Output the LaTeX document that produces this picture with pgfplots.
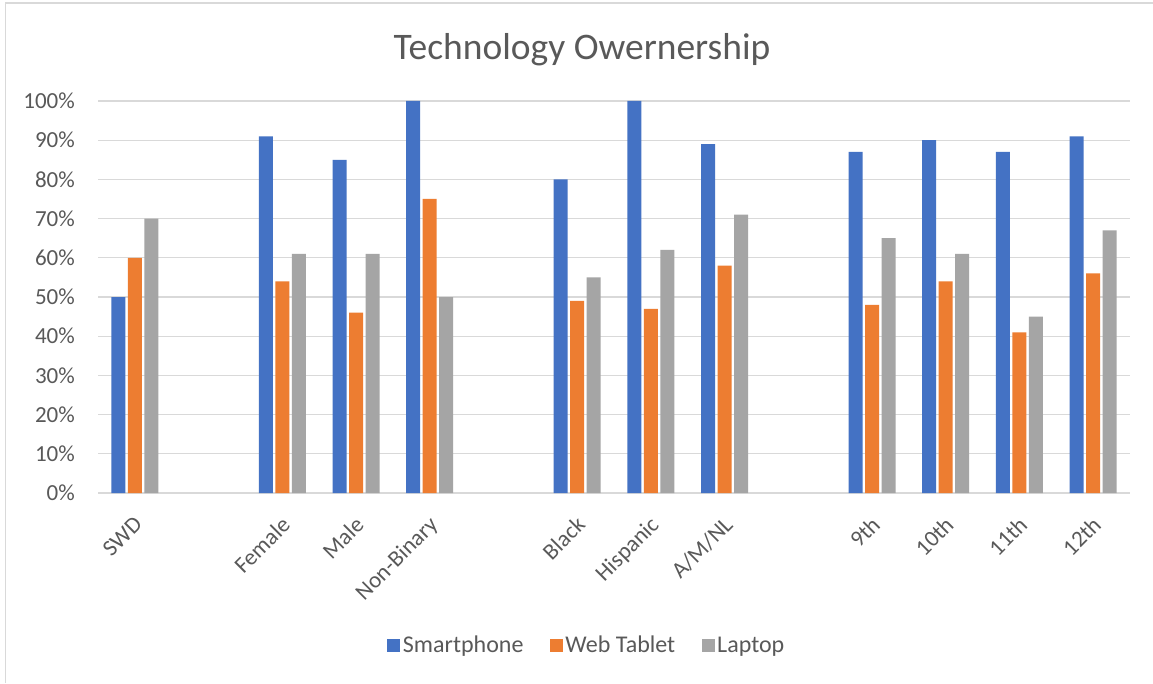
\documentclass[border=0pt]{standalone}
\usepackage{pgfplots}
\pgfplotsset{compat=1.18}
\usepackage{fontspec}
\setmainfont{Carlito}
\definecolor{cBlue}{HTML}{4472C4}
\definecolor{cOrange}{HTML}{ED7D31}
\definecolor{cGray}{HTML}{A5A5A5}
\definecolor{gridc}{HTML}{D9D9D9}
\definecolor{txt}{HTML}{595959}
\begin{document}
\begin{tikzpicture}[x=1pt,y=1pt]
\useasboundingbox (0,0) rectangle (1153,683);
\fill[white] (0,0) rectangle (1153,683);
\draw[gridc, line width=1.5pt] (5.5,0) -- (5.5,680) -- (1153,680);
\begin{axis}[
  at={(98pt,190pt)}, anchor=south west,
  scale only axis, width=1032pt, height=392pt,
  xmin=-0.5, xmax=13.5, ymin=0, ymax=100,
  ybar=2.5pt, bar width=14pt,
  axis y line*=left, axis x line*=bottom,
  y axis line style={draw=none},
  x axis line style={gridc, line width=1.5pt},
  ymajorgrids, grid style={gridc, line width=1.2pt},
  ytick={0,10,...,100},
  yticklabel={\pgfmathprintnumber{\tick}\%},
  /pgf/number format/assume math mode=true,
  major tick length=0pt,
  xtick={0,2,3,4,6,7,8,10,11,12,13},
  xticklabels={SWD,Female,Male,Non-Binary,Black,Hispanic,A/M/NL,9th,10th,11th,12th},
  xticklabel style={xshift=-2pt, yshift=-22pt, rotate=45, anchor=north east, inner sep=0pt, font=\fontsize{23}{26}\selectfont, text=txt},
  yticklabel style={font=\fontsize{23}{26}\selectfont, text=txt, anchor=east, inner sep=0pt, xshift=-23pt},
  legend style={at={(0.474,-0.388)}, anchor=center, draw=none, fill=none,
    legend columns=-1, font=\fontsize{24}{28}\selectfont, text=txt,
    /tikz/every even column/.append style={column sep=24pt},
    /tikz/every odd column/.append style={column sep=0pt},
    nodes={inner sep=2.5pt}},
  legend image code/.code={\fill[#1] (0pt,-6.5pt) rectangle (13pt,6.5pt);},
  clip=false,
]
\addplot[fill=cBlue, draw=none] coordinates {(0,50) (2,91) (3,85) (4,100) (6,80) (7,100) (8,89) (10,87) (11,90) (12,87) (13,91)};
\addplot[fill=cOrange, draw=none] coordinates {(0,60) (2,54) (3,46) (4,75) (6,49) (7,47) (8,58) (10,48) (11,54) (12,41) (13,56)};
\addplot[fill=cGray, draw=none] coordinates {(0,70) (2,61) (3,61) (4,50) (6,55) (7,62) (8,71) (10,65) (11,61) (12,45) (13,67)};
\legend{Smartphone,Web Tablet,Laptop}
\node[font=\fontsize{37.5}{42}\selectfont, text=txt] at (rel axis cs:0.469,1.13) {Technology Owernership};
\end{axis}
\end{tikzpicture}
\end{document}
